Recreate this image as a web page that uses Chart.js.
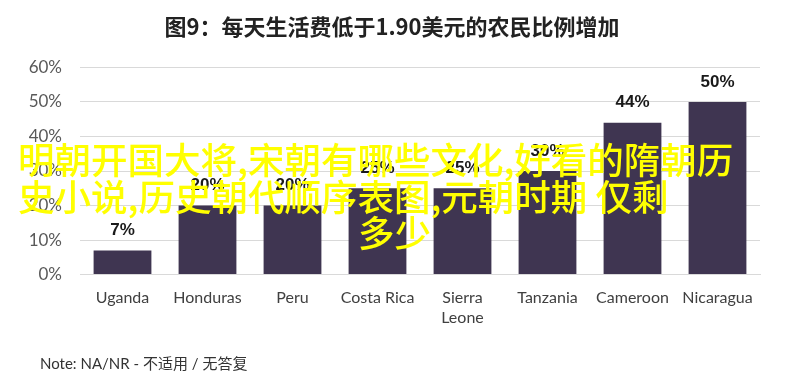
<!DOCTYPE html>
<html>
<head>
<meta charset="utf-8">
<script src="https://cdn.jsdelivr.net/npm/chart.js@4.4.0/dist/chart.umd.min.js"></script>
<style>
  html, body { margin: 0; padding: 0; background: #fff; }
  #wrap { position: relative; width: 788px; height: 381px; overflow: hidden; }
  canvas { position: absolute; left: 0; top: 0; }
  .note { position: absolute; left: 40px; top: 352px; font: 15px Lato, "Noto Sans CJK SC", sans-serif; color: #333; white-space: nowrap; }
  .wm { position: absolute; font: 500 36.5px "Noto Sans CJK SC", sans-serif; color: #ffff00; white-space: nowrap; line-height: 37px; }
</style>
</head>
<body>
<div id="wrap">
  <canvas id="c" width="788" height="381"></canvas>
  <div class="note">Note: NA/NR - 不适用 / 无答复</div>
  <div class="wm" style="left:18px; top:140px;">明朝开国大将,宋朝有哪些文化,好看的隋朝历</div>
  <div class="wm" style="left:18px; top:177px;">史小说,历史朝代顺序表图,元朝时期&nbsp;仅剩</div>
  <div class="wm" style="left:358px; top:213px;">多少</div>
</div>
<script>
const categories = ["Uganda", "Honduras", "Peru", "Costa Rica", ["Sierra", "Leone"], "Tanzania", "Cameroon", "Nicaragua"];
const shares = [7, 20, 20, 25, 25, 30, 44, 50];
const yTicks = [0, 10, 20, 30, 40, 50, 60];
const titleText = "图9：每天生活费低于1.90美元的农民比例增加";

const labelPlugin = {
  id: 'barLabels',
  afterDatasetsDraw(chart) {
    const ctx = chart.ctx;
    const meta = chart.getDatasetMeta(0);
    ctx.save();
    ctx.font = 'bold 17px "Liberation Sans", Arial, sans-serif';
    ctx.fillStyle = '#1a1a1a';
    ctx.textAlign = 'center';
    ctx.textBaseline = 'middle';
    meta.data.forEach((bar, i) => {
      ctx.fillText(shares[i] + '%', bar.x, bar.y - 20);
    });
    ctx.restore();
  }
};

new Chart(document.getElementById('c'), {
  type: 'bar',
  data: {
    labels: categories,
    datasets: [{
      data: shares,
      backgroundColor: '#3f3551',
      categoryPercentage: 1,
      barPercentage: 0.68
    }]
  },
  options: {
    responsive: false,
    animation: false,
    layout: { padding: { left: 24, right: 28, top: 0, bottom: 40 } },
    plugins: {
      legend: { display: false },
      tooltip: { enabled: false },
      title: {
        display: true,
        text: titleText,
        color: '#222',
        font: { family: '"Noto Sans CJK SC", sans-serif', size: 22, weight: 'bold' },
        padding: { top: 13, bottom: 28 }
      }
    },
    scales: {
      y: {
        min: 0, max: 60,
        afterBuildTicks(scale) { scale.ticks = yTicks.map(v => ({ value: v })); },
        afterFit(scale) { scale.width = 56; },
        grid: { color: '#d9d9d9', drawTicks: false },
        border: { display: false },
        ticks: {
          padding: 18,
          color: '#595959',
          font: { family: 'Lato, sans-serif', size: 17 },
          callback: v => v + '%'
        }
      },
      x: {
        grid: { display: false, drawTicks: false },
        border: { color: '#d9d9d9' },
        ticks: {
          padding: 14,
          color: '#404040',
          maxRotation: 0,
          autoSkip: false,
          font: { family: 'Lato, sans-serif', size: 16 }
        }
      }
    }
  },
  plugins: [labelPlugin]
});
</script>
</body>
</html>
